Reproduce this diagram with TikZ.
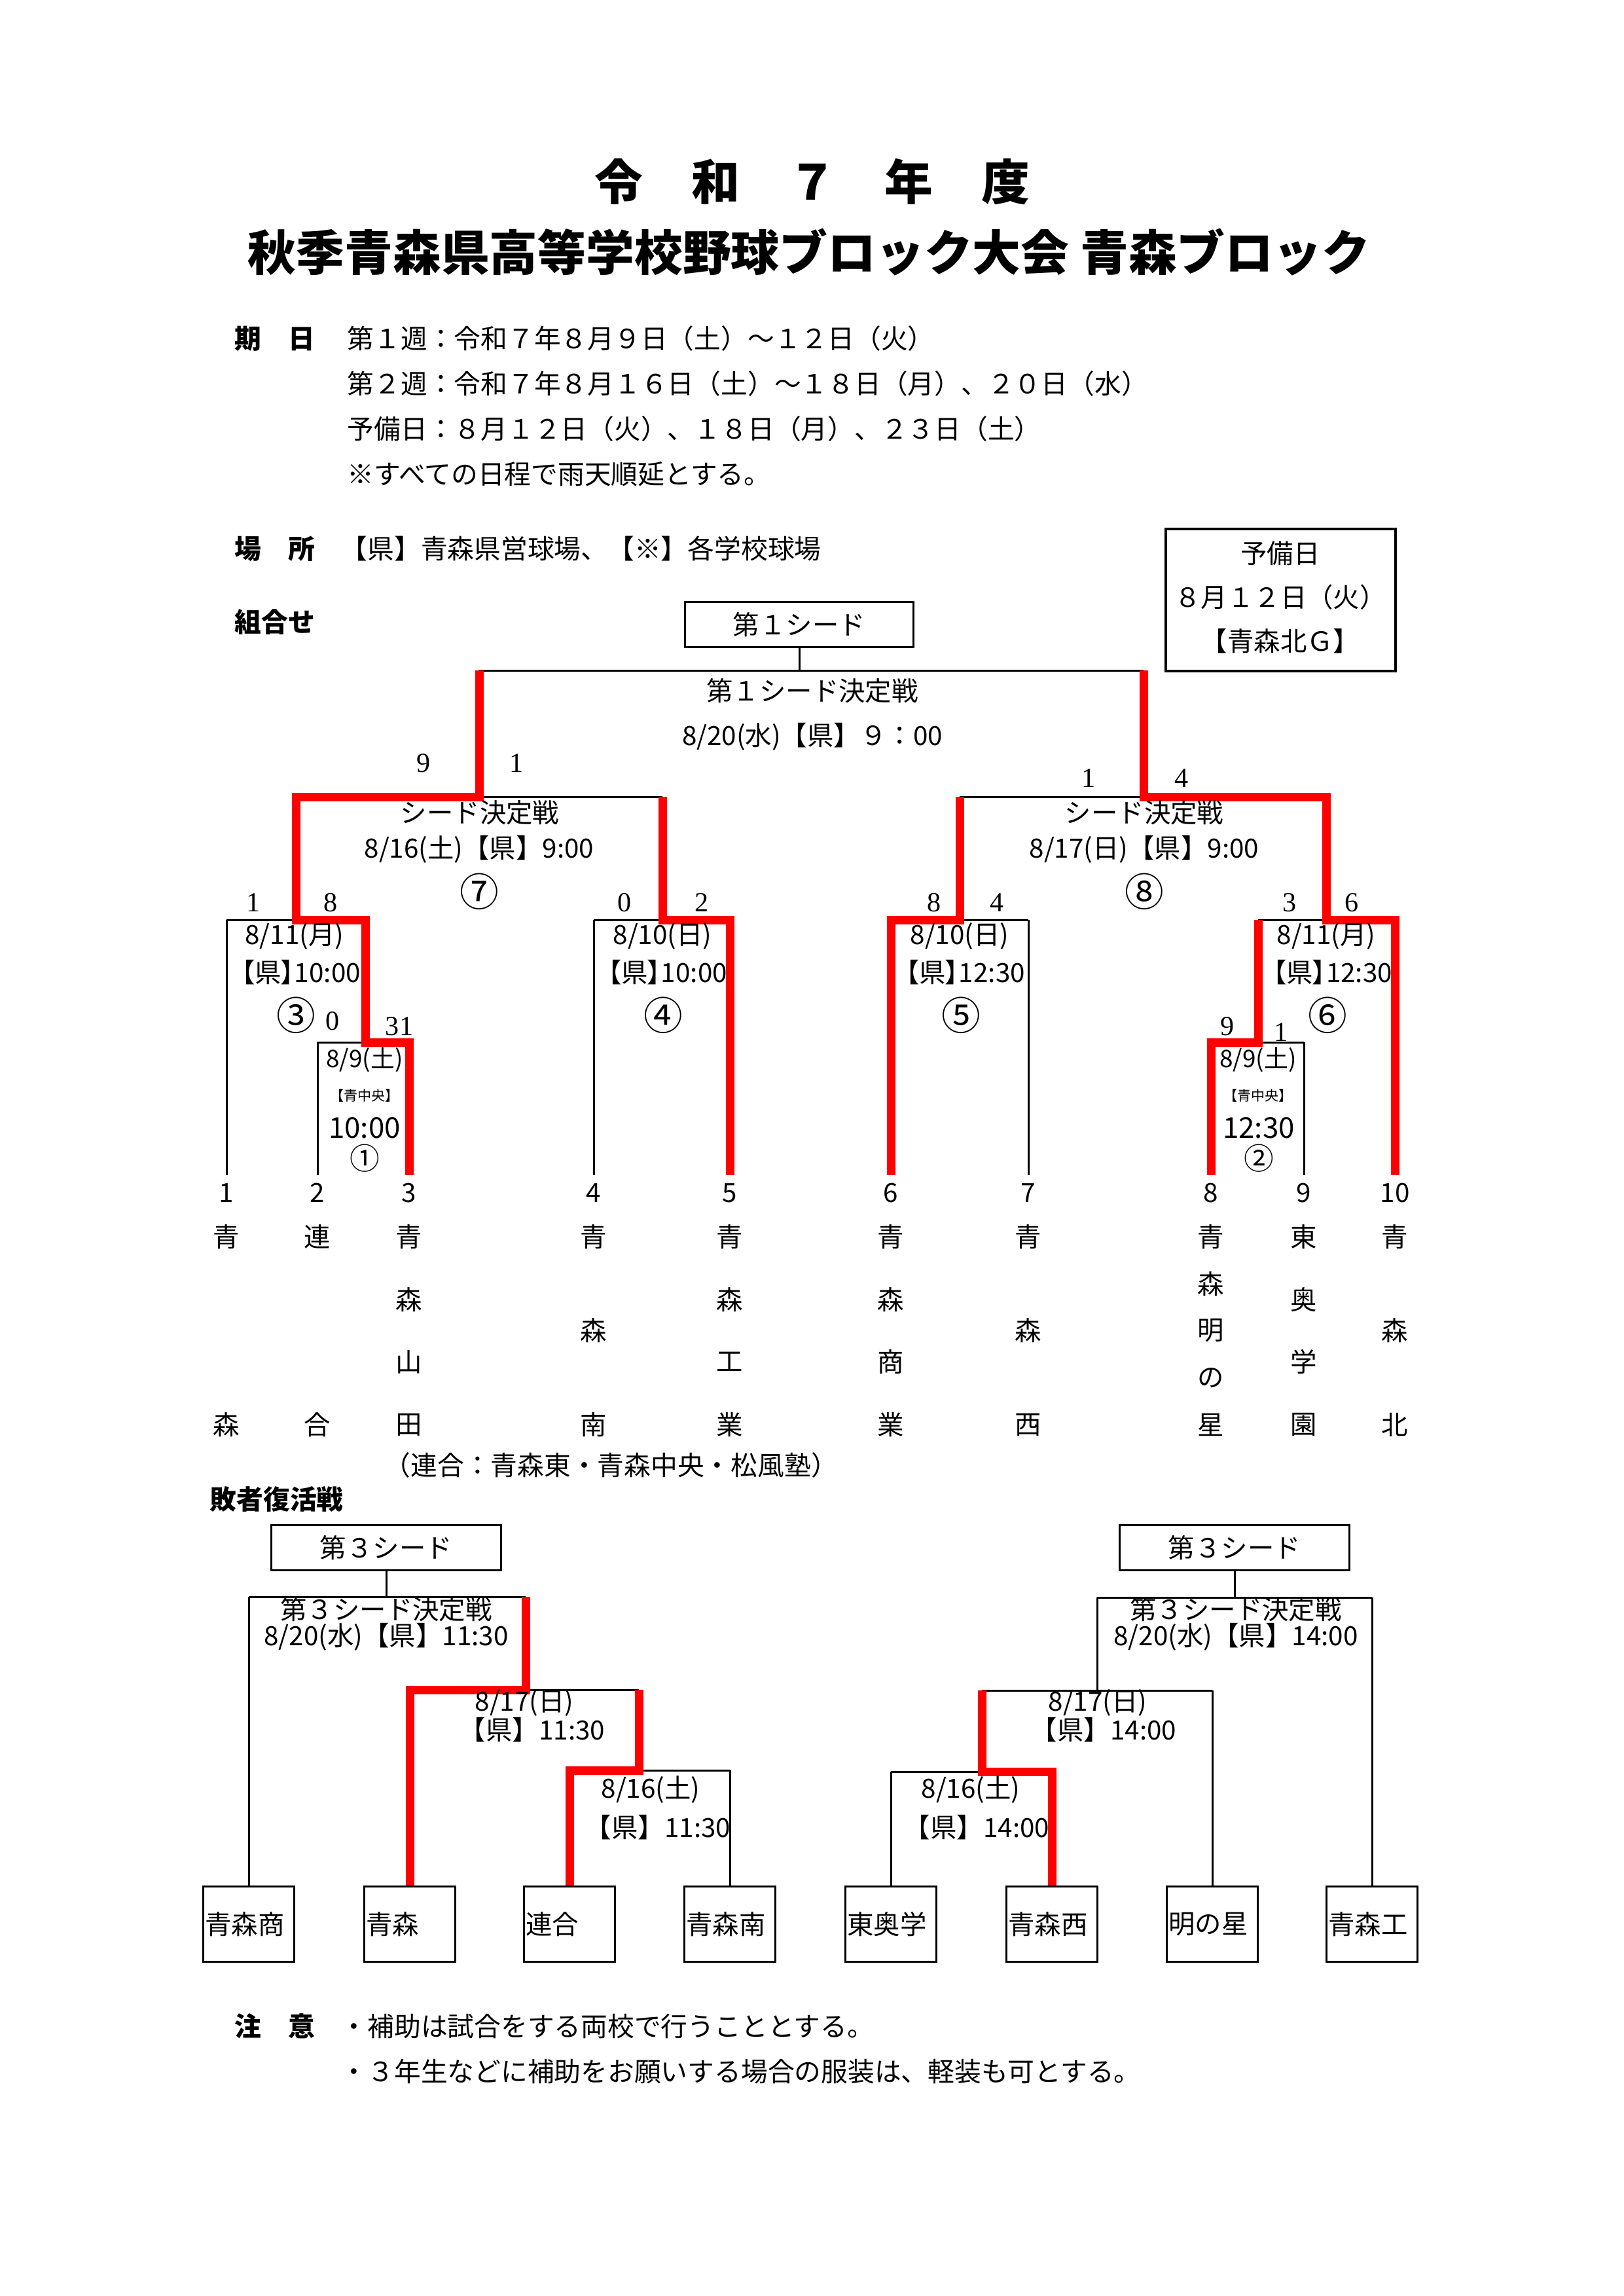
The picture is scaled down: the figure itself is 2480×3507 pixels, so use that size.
\documentclass[tikz,border=0pt]{standalone}
\usepackage{fontspec}
\setmainfont{Noto Sans CJK JP}
\newfontfamily\pfam{Noto Sans CJK JP}[RawFeature=+palt]
\newfontfamily\serfam{Liberation Serif}
\newcommand\fsBody{\fontsize{11.5}{13.5}\selectfont}
\newcommand\fsHead{\fontsize{11.6}{13.5}\selectfont}
\newcommand\fsTitle{\fontsize{21}{24}\selectfont}
\begin{document}
\begin{tikzpicture}[x=0.1mm,y=-0.1mm,
  ln/.style={line width=0.3mm,black},
  win/.style={line width=1.3mm,red},
  tx/.style={inner sep=0pt,font=\fsBody},
  txp/.style={inner sep=0pt,font=\fsBody\pfam},
  hd/.style={inner sep=0pt,font=\fsHead\bfseries,anchor=west},
  bl/.style={inner sep=0pt,font=\fsHead,anchor=west},
  sc/.style={inner sep=0pt,font=\fontsize{12}{14}\selectfont\serfam},
  circ/.style={inner sep=0pt,font=\fontsize{17}{20}\selectfont},
  circs/.style={inner sep=0pt,font=\fontsize{13}{15}\selectfont},
  nm/.style={inner sep=0pt,font=\fsBody},
  boxn/.style={draw,line width=0.35mm,inner sep=0pt},
  tbox/.style={draw,line width=0.35mm,inner sep=0pt,minimum width=13.9mm,minimum height=11.5mm}
]
\useasboundingbox (0,0) rectangle (2480,3507);

% ---------- titles ----------
\node[inner sep=0pt,font=\fsTitle\bfseries] (title1) at (1241,277) {令　和　７　年　度};
\node[inner sep=0pt,font=\fsTitle\bfseries] (title2) at (1236,385) {秋季青森県高等学校野球ブロック大会 青森ブロック};

% ---------- header ----------
\node[hd] (kijitsu) at (358,517) {期　日};
\node[bl] (k1) at (530,517) {第１週：令和７年８月９日（土）～１２日（火）};
\node[bl] (k2) at (530,586) {第２週：令和７年８月１６日（土）～１８日（月）、２０日（水）};
\node[bl] (k3) at (530,655) {予備日：８月１２日（火）、１８日（月）、２３日（土）};
\node[bl] (k4) at (530,724) {※すべての日程で雨天順延とする。};
\node[hd] (basho) at (358,838) {場　所};
\node[bl] (basho-t) at (520,838) {【県】青森県営球場、【※】各学校球場};
\node[hd] (kumi) at (358,950) {組合せ};

% 予備日 box
\node[boxn,line width=0.4mm,minimum width=35.1mm,minimum height=21.7mm] (yobi) at (1956,916) {};
\node[tx] (yobi1) at (1956,845) {予備日};
\node[tx] (yobi2) at (1956,912) {８月１２日（火）};
\node[tx] (yobi3) at (1956,979) {【青森北Ｇ】};

% 第1シード box
\node[boxn,minimum width=34.9mm,minimum height=6.9mm,font=\fsBody] (seed1) at (1221,954) {第１シード};

% ---------- upper bracket coordinates ----------
\coordinate (T-l) at (732,1024);  \coordinate (T-r) at (1747,1024);
\coordinate (S7-l) at (452,1217); \coordinate (S7-r) at (1012,1217);
\coordinate (S8-l) at (1466,1217); \coordinate (S8-r) at (2026,1217);
\coordinate (M3-l) at (346,1405); \coordinate (M3-r) at (558,1405);
\coordinate (M4-l) at (907,1405); \coordinate (M4-r) at (1115,1405);
\coordinate (M5-l) at (1361,1405); \coordinate (M5-r) at (1571,1405);
\coordinate (M6-l) at (1922,1405); \coordinate (M6-r) at (2131,1405);
\coordinate (M1-l) at (485,1592); \coordinate (M1-r) at (625,1592);
\coordinate (M2-l) at (1850,1592); \coordinate (M2-r) at (1992,1592);
\foreach \n/\x in {1/346,2/485,3/625,4/907,5/1115,6/1361,7/1571,8/1850,9/1992,10/2131}
  {\coordinate (b\n) at (\x,1795);}

% black lines
\draw[ln] (seed1) -- (seed1 |- T-l);
\draw[ln] (T-l) -- (T-r);
\draw[ln] (S7-l) -- (S7-r);
\draw[ln] (S8-l) -- (S8-r);
\draw[ln] (M3-l) -- (M3-r);  \draw[ln] (b1) -- (M3-l);
\draw[ln] (M1-l) -- (M1-r);  \draw[ln] (b2) -- (M1-l);
\draw[ln] (M4-l) -- (M4-r);  \draw[ln] (b4) -- (M4-l);
\draw[ln] (M5-l) -- (M5-r);  \draw[ln] (b7) -- (M5-r);
\draw[ln] (M6-l) -- (M6-r);
\draw[ln] (M2-l) -- (M2-r);  \draw[ln] (b9) -- (M2-r);

% red winner paths
\draw[win] (b3) -- (M1-r) -- (M3-r |- M1-r) -- (M3-r) -- (S7-l |- M3-r) -- (S7-l) -- (T-l |- S7-l) -- (T-l);
\draw[win] (b5) -- (M4-r) -- (S7-r |- M4-r) -- (S7-r);
\draw[win] (b6) -- (M5-l) -- (S8-l |- M5-l) -- (S8-l);
\draw[win] (b8) -- (M2-l) -- (M6-l |- M2-l) -- (M6-l);
\draw[win] (b10) -- (M6-r) -- (S8-r |- M6-r) -- (S8-r) -- (T-r |- S8-r) -- (T-r);

% scores
\node[sc] (s7a) at (647,1166) {9};   \node[sc] (s7b) at (789,1166) {1};
\node[sc] (s8a) at (1663,1189) {1};  \node[sc] (s8b) at (1805,1189) {4};
\node[sc] (s3a) at (387,1379) {1};   \node[sc] (s3b) at (505,1379) {8};
\node[sc] (s4a) at (954,1379) {0};   \node[sc] (s4b) at (1072,1379) {2};
\node[sc] (s5a) at (1427,1379) {8};  \node[sc] (s5b) at (1523,1379) {4};
\node[sc] (s6a) at (1970,1379) {3};  \node[sc] (s6b) at (2065,1379) {6};
\node[sc] (s1a) at (508,1560) {0};   \node[sc] (s1b) at (610,1568) {31};
\node[sc] (s2a) at (1875,1568) {9};  \node[sc] (s2b) at (1957,1577) {1};

% match labels
\node[tx] (fin1) at (1241,1055) {第１シード決定戦};
\node[tx] (fin2) at (1241,1125) {8/20(水)【県】９：00};
\node[tx] (g7a) at (733,1241) {シード決定戦};
\node[tx] (g7b) at (732,1297) {8/16(土)【県】9:00};
\node[circ] (g7c) at (732,1362) {⑦};
\node[tx] (g8a) at (1748,1241) {シード決定戦};
\node[tx] (g8b) at (1748,1297) {8/17(日)【県】9:00};
\node[circ] (g8c) at (1748,1362) {⑧};
\node[tx] (g3a) at (450,1430) {8/11(月)};
\node[txp] (g3b) at (460,1485) {【県】10:00};
\node[circ] (g3c) at (452,1551) {③};
\node[tx] (g4a) at (1012,1430) {8/10(日)};
\node[txp] (g4b) at (1020,1485) {【県】10:00};
\node[circ] (g4c) at (1013,1551) {④};
\node[tx] (g5a) at (1466,1430) {8/10(日)};
\node[txp] (g5b) at (1475,1485) {【県】12:30};
\node[circ] (g5c) at (1468,1551) {⑤};
\node[tx] (g6a) at (2026,1430) {8/11(月)};
\node[txp] (g6b) at (2036,1485) {【県】12:30};
\node[circ] (g6c) at (2028,1551) {⑥};
\node[inner sep=0pt,font=\fontsize{10.5}{12}\selectfont] (g1a) at (557,1619) {8/9(土)};
\node[inner sep=0pt,font=\fontsize{6}{7}\selectfont] (g1b) at (557,1673) {【青中央】};
\node[inner sep=0pt,font=\fontsize{12.5}{14}\selectfont] (g1c) at (557,1723) {10:00};
\node[circs] (g1d) at (557,1769) {①};
\node[inner sep=0pt,font=\fontsize{10.5}{12}\selectfont] (g2a) at (1922,1619) {8/9(土)};
\node[inner sep=0pt,font=\fontsize{6}{7}\selectfont] (g2b) at (1922,1673) {【青中央】};
\node[inner sep=0pt,font=\fontsize{12.5}{14}\selectfont] (g2c) at (1923,1723) {12:30};
\node[circs] (g2d) at (1923,1769) {②};

% team numbers
\foreach \n/\x in {1/346,2/485,3/625,4/907,5/1115,6/1361,7/1571,8/1850,9/1992,10/2131}
  {\node[nm] (num\n) at (\x,1822) {\n};}

% vertical team names
\newcommand\vname[4]{\foreach \c [count=\i from 0] in {#4} {\node[nm] (#1-\i) at (#2,{1889+\i*287/(#3-1)}) {\c};}}
\vname{tn1}{346}{2}{青,森}
\vname{tn2}{485}{2}{連,合}
\vname{tn3}{625}{4}{青,森,山,田}
\vname{tn4}{907}{3}{青,森,南}
\vname{tn5}{1115}{4}{青,森,工,業}
\vname{tn6}{1361}{4}{青,森,商,業}
\vname{tn7}{1571}{3}{青,森,西}
\vname{tn8}{1850}{5}{青,森,明,の,星}
\vname{tn9}{1992}{4}{東,奥,学,園}
\vname{tn10}{2131}{3}{青,森,北}

\node[bl] (rengo) at (586,2238) {（連合：青森東・青森中央・松風塾）};

% ---------- 敗者復活戦 ----------
\node[hd] (haisha) at (320,2290) {敗者復活戦};

\node[boxn,minimum width=35.1mm,minimum height=6.9mm,font=\fsBody] (seed3L) at (590,2364) {第３シード};
\node[boxn,minimum width=35.1mm,minimum height=6.9mm,font=\fsBody] (seed3R) at (1886,2364) {第３シード};

% team boxes
\foreach \n/\x/\t in {1/380/青森商,2/626/青森,3/870/連合,4/1115/青森南,5/1361/東奥学,6/1607/青森西,7/1852/明の星,8/2096/青森工}
  {\node[tbox] (lb\n) at (\x,2939) {};
   \node[bl,font=\fsBody] (lb\n-t) at ([xshift=0.4mm]lb\n.west) {\t};}

% left lower bracket
\coordinate (LA-l) at (380,2439); \coordinate (LA-r) at (803,2439);
\coordinate (LB-l) at (626,2581); \coordinate (LB-r) at (976,2581);
\coordinate (LC-l) at (870,2704); \coordinate (LC-r) at (1115,2704);
\draw[ln] (seed3L) -- (seed3L |- LA-l);
\draw[ln] (LA-l) -- (LA-r);
\draw[ln] (LA-l) -- (lb1);
\draw[ln] (LB-l) -- (LB-r);
\draw[ln] (LC-l) -- (LC-r);
\draw[ln] (LC-r) -- (lb4);
\draw[win] (lb2) -- (LB-l) -- (LA-r |- LB-l) -- (LA-r);
\draw[win] (lb3) -- (LC-l) -- (LB-r |- LC-l) -- (LB-r);

\node[tx] (la1) at (590,2458) {第３シード決定戦};
\node[tx] (la2) at (590,2500) {8/20(水)【県】11:30};
\node[tx] (lb-a) at (801,2601) {8/17(日)};
\node[tx] (lb-b) at (813,2642) {【県】11:30};
\node[tx] (lc-a) at (994,2734) {8/16(土)};
\node[tx] (lc-b) at (1005,2791) {【県】11:30};

% right lower bracket
\coordinate (RA-l) at (1676,2440); \coordinate (RA-r) at (2096,2440);
\coordinate (RB-l) at (1500,2582); \coordinate (RB-r) at (1852,2582);
\coordinate (RC-l) at (1361,2706); \coordinate (RC-r) at (1607,2706);
\draw[ln] (seed3R) -- (seed3R |- RA-l);
\draw[ln] (RA-l) -- (RA-r);
\draw[ln] (RA-l) -- (RA-l |- RB-l);
\draw[ln] (RA-r) -- (lb8);
\draw[ln] (RB-l) -- (RB-r);
\draw[ln] (RB-r) -- (lb7);
\draw[ln] (RC-l) -- (RC-r);
\draw[ln] (RC-l) -- (lb5);
\draw[win] (lb6) -- (RC-r) -- (RB-l |- RC-r) -- (RB-l);

\node[tx] (ra1) at (1888,2458) {第３シード決定戦};
\node[tx] (ra2) at (1888,2500) {8/20(水)【県】14:00};
\node[tx] (rb-a) at (1677,2601) {8/17(日)};
\node[tx] (rb-b) at (1686,2642) {【県】14:00};
\node[tx] (rc-a) at (1483,2734) {8/16(土)};
\node[tx] (rc-b) at (1492,2791) {【県】14:00};

% ---------- notes ----------
\node[hd] (chui) at (358,3095) {注　意};
\node[bl] (c1) at (520,3095) {・補助は試合をする両校で行うこととする。};
\node[bl] (c2) at (520,3164) {・３年生などに補助をお願いする場合の服装は、軽装も可とする。};
\end{tikzpicture}
\end{document}
